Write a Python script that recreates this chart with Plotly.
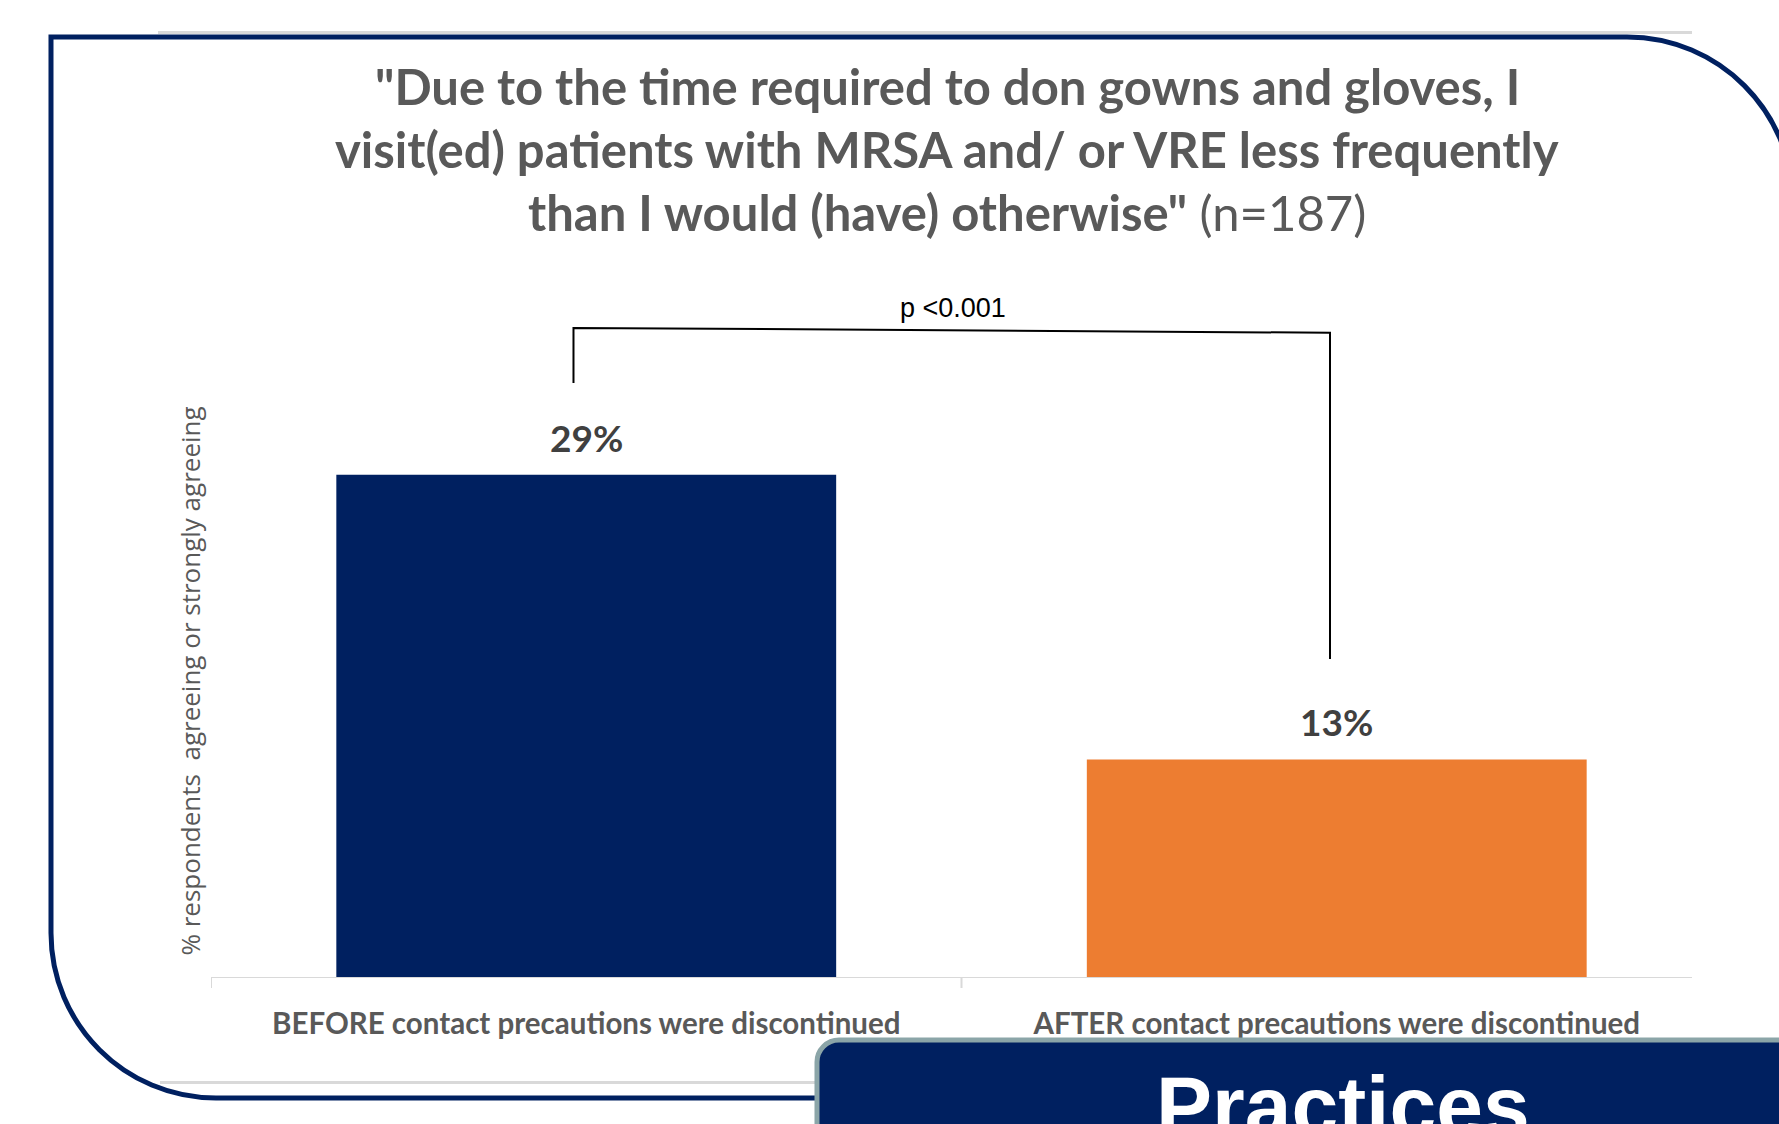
import plotly.graph_objects as go

# ---------------- data ----------------
categories = ["BEFORE contact precautions were discontinued",
              "AFTER contact precautions were discontinued"]
values = [29.0, 12.6]
value_labels = ["29%", "13%"]
bar_colors = ["#002060", "#ED7D31"]

title_lines = ['<b>"Due to the time required to don gowns and gloves, I</b>',
               '<b>visit(ed) patients with MRSA and/ or VRE less frequently</b>',
               '<b>than I would (have) otherwise"</b> (n=187)']
y_title = "% respondents\u00a0\u00a0agreeing or strongly agreeing"
p_text = "p <0.001"
# significance bracket (data units): left leg, top, right leg
bracket_x = [-0.017, 0.991]
bracket_left_y = [34.3, 37.47]
bracket_right_y = [37.19, 18.39]
footer_text = "Practices"

# ---------------- geometry helpers (pixel -> paper) ----------------
W, H = 1779, 1124
L, R, T, B = 211, 1712, 284, 978
def px(x):
    return (x - L) / (R - L)
def py(y):
    return (B - y) / (B - T)

NAVY = "#002060"
GRAY_TXT = "#595959"

fig = go.Figure()
fig.add_trace(go.Bar(
    x=categories, y=values, marker_color=bar_colors, width=0.666,
    marker_line_width=0, hoverinfo="skip"))

fig.update_layout(
    width=W, height=H,
    margin=dict(l=L, r=W - R, t=T, b=H - B, autoexpand=False),
    paper_bgcolor="white", plot_bgcolor="white",
    showlegend=False,
    bargap=0.334,
    xaxis=dict(range=[-0.5, 1.5], showline=False, showgrid=False, zeroline=False,
               ticks="", tickfont=dict(family="Lato", size=29.5, color=GRAY_TXT, weight="bold"),
               ticklabelstandoff=25),
    yaxis=dict(range=[0, 40], visible=False, fixedrange=True),
)

shapes = []
# slide decoration lines (light gray)
shapes.append(dict(type="line", xref="paper", yref="paper", x0=px(158), x1=px(1692),
                   y0=py(32.5), y1=py(32.5), line=dict(color="#D9D9D9", width=3), layer="below"))
shapes.append(dict(type="line", xref="paper", yref="paper", x0=px(160), x1=px(900),
                   y0=py(1082.5), y1=py(1082.5), line=dict(color="#D9D9D9", width=3), layer="below"))
# outer rounded border
k = 0.5523
r1, r2 = 166, 165
xl, yt, xr, yb = 51, 37, 1793, 1098
def P(x, y):
    return f"{px(x):.5f},{py(y):.5f}"
path = (f"M {P(xl, yt)} L {P(xr - r1, yt)} "
        f"C {P(xr - r1 + k * r1, yt)} {P(xr, yt + r1 - k * r1)} {P(xr, yt + r1)} "
        f"L {P(xr, yb)} L {P(xl + r2, yb)} "
        f"C {P(xl + r2 - k * r2, yb)} {P(xl, yb - r2 + k * r2)} {P(xl, yb - r2)} Z")
shapes.append(dict(type="path", xref="paper", yref="paper", path=path,
                   line=dict(color=NAVY, width=5), fillcolor="rgba(0,0,0,0)", layer="below"))
# x axis line and tick marks
shapes.append(dict(type="line", xref="paper", yref="y", x0=0, x1=px(1692), y0=0, y1=0,
                   line=dict(color="#D9D9D9", width=2)))
for xb in [-0.5, 0.5]:
    shapes.append(dict(type="line", xref="x", yref="paper", x0=xb, x1=xb, y0=0, y1=py(988),
                       line=dict(color="#D9D9D9", width=2)))
# significance bracket
shapes.append(dict(type="path", xref="x", yref="y",
                   path=(f"M {bracket_x[0]},{bracket_left_y[0]} L {bracket_x[0]},{bracket_left_y[1]} "
                         f"L {bracket_x[1]},{bracket_right_y[0]} L {bracket_x[1]},{bracket_right_y[1]}"),
                   line=dict(color="black", width=2)))
# footer box
rb = 22
bx, byt = 817, 1040
fpath = (f"M {P(bx, 1200)} L {P(bx, byt + rb)} "
         f"C {P(bx, byt + rb - k * rb)} {P(bx + rb - k * rb, byt)} {P(bx + rb, byt)} "
         f"L {P(1830, byt)} L {P(1830, 1200)} Z")
shapes.append(dict(type="path", xref="paper", yref="paper", path=fpath,
                   line=dict(color="#8BA5A8", width=5), fillcolor=NAVY))
fig.update_layout(shapes=shapes)

ann = []
for i, (t, yc) in enumerate(zip(title_lines, [86, 149, 212])):
    ann.append(dict(text=t, xref="paper", yref="paper", x=px(947), y=py(yc),
                    xanchor="center", yanchor="middle", showarrow=False,
                    font=dict(family="Lato", size=49, color=GRAY_TXT)))
for c, v, lab in zip(categories, values, value_labels):
    ann.append(dict(text=f"<b>{lab}</b>", x=c, y=v, xref="x", yref="y",
                    xanchor="center", yanchor="bottom", yshift=13, showarrow=False,
                    font=dict(family="Lato", size=37, color="#404040")))
ann.append(dict(text=y_title, xref="paper", yref="paper", x=px(189.5), y=py(681),
                xanchor="center", yanchor="middle", textangle=-90, showarrow=False,
                font=dict(family="Open Sans", size=26, color=GRAY_TXT)))
ann.append(dict(text=p_text, xref="x", yref="y", x=0.489, y=38.6, xanchor="center",
                yanchor="middle", showarrow=False,
                font=dict(family="Liberation Sans", size=27, color="black")))
ann.append(dict(text=f"<b>{footer_text}</b>", xref="paper", yref="paper", x=px(1343), y=py(1076),
                xanchor="center", yanchor="top", yshift=19, showarrow=False,
                font=dict(family="Liberation Sans", size=84, color="white")))
fig.update_layout(annotations=ann)

fig.write_html("out.html")
